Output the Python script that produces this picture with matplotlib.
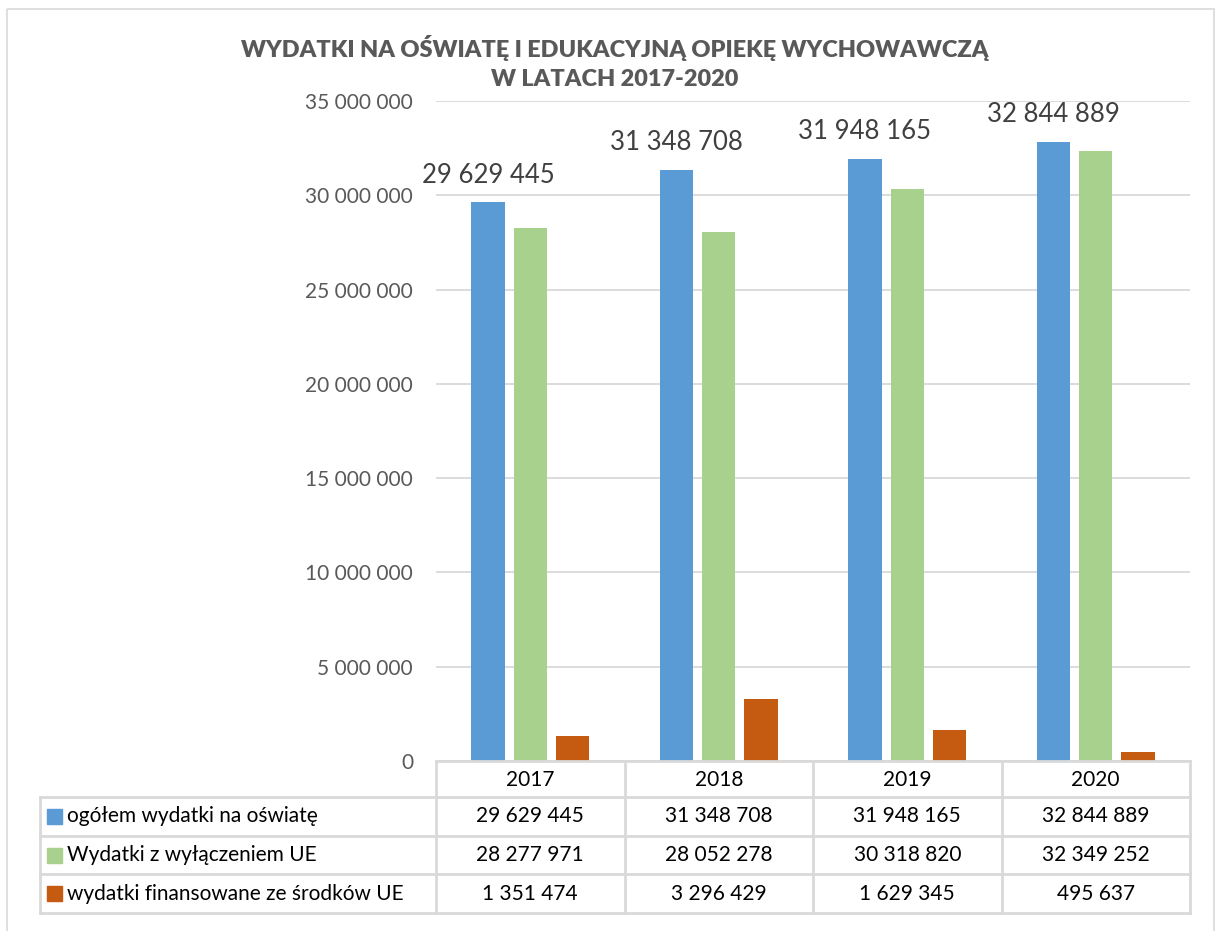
import matplotlib.pyplot as plt
import numpy as np
from matplotlib.patches import Rectangle

plt.rcParams["font.family"] = ["Lato", "DejaVu Sans"]

# data
years = ["2017", "2018", "2019", "2020"]
series_names = [
    "ogółem wydatki na oświatę",
    "Wydatki z wyłączeniem UE",
    "wydatki finansowane ze środków UE",
]
total = [29629445, 31348708, 31948165, 32844889]
without_eu = [28277971, 28052278, 30318820, 32349252]
eu_funded = [1351474, 3296429, 1629345, 495637]
series_values = [total, without_eu, eu_funded]
colors = ["#5B9BD5", "#A9D18E", "#C55A11"]
y_ticks = [0, 5000000, 10000000, 15000000, 20000000, 25000000, 30000000, 35000000]
title_lines = ["WYDATKI NA OŚWIATĘ I EDUKACYJNĄ OPIEKĘ WYCHOWAWCZĄ", "W LATACH 2017-2020"]


def fmt(v):
    return f"{v:,}".replace(",", " ")


W, H = 1224, 931
fig = plt.figure(figsize=(W / 100, H / 100), dpi=100)

# plot area in pixels
px_left, px_right, px_top, px_bottom = 436, 1190, 101, 761
ax = fig.add_axes([px_left / W, 1 - px_bottom / H, (px_right - px_left) / W,
                   (px_bottom - px_top) / H])

x = np.arange(len(years))
bar_w = 0.176
step = 0.224
for i, (vals, c) in enumerate(zip(series_values, colors)):
    ax.bar(x + (i - 1) * step, vals, width=bar_w, color=c, zorder=2)

# labels above the totals
for xi, v in zip(x - step, total):
    ax.annotate(fmt(v), xy=(xi, v), xytext=(0, 10.5), textcoords="offset points",
                ha="center", va="bottom", fontsize=18.5, color="#404040")

ax.set_xlim(-0.5, len(years) - 0.5)
ax.set_ylim(0, 35000000)
ax.set_yticks(y_ticks)
ax.set_yticklabels([fmt(t) for t in y_ticks], fontsize=15, color="#595959")
ax.tick_params(axis="y", length=0, pad=16.5)
ax.set_xticks([])
ax.grid(axis="y", color="#D9D9D9", linewidth=1.3, zorder=0)
for s in ax.spines.values():
    s.set_visible(False)

# overlay in pixel coordinates for the title, frame and data table
ov = fig.add_axes([0, 0, 1, 1], facecolor="none")
ov.set_xlim(0, W)
ov.set_ylim(H, 0)
ov.axis("off")

ov.add_patch(Rectangle((7, 9), 1207, 940, fill=False, edgecolor="#D9D9D9", lw=1.2))

ov.text(615, 48, title_lines[0], ha="center", va="center", fontsize=16.9,
        fontweight="heavy", color="#595959")
ov.text(615, 80, title_lines[1], ha="center", va="center", fontsize=16.9,
        fontweight="heavy", color="#595959")

line_kw = dict(color="#D9D9D9", lw=2)
col_w = (px_right - px_left) / len(years)
col_x = [px_left + k * col_w for k in range(len(years) + 1)]
row_y = [761, 797, 836, 874, 913]
tab_left = 40

# horizontal lines
ov.plot([px_left, px_right], [row_y[0], row_y[0]], **line_kw)
for ry in row_y[1:]:
    ov.plot([tab_left, px_right], [ry, ry], **line_kw)
# vertical lines
ov.plot([tab_left, tab_left], [row_y[1], row_y[-1]], **line_kw)
for cx in col_x:
    ov.plot([cx, cx], [row_y[0], row_y[-1]], **line_kw)

for k, yr in enumerate(years):
    ov.text((col_x[k] + col_x[k + 1]) / 2, (row_y[0] + row_y[1]) / 2 + 1, yr,
            ha="center", va="center", fontsize=15, color="#000000")

for r, (name, vals, c) in enumerate(zip(series_names, series_values, colors)):
    cy = (row_y[r + 1] + row_y[r + 2]) / 2
    ov.add_patch(Rectangle((47, cy - 7.5), 15, 15, color=c))
    ov.text(67, cy, name, ha="left", va="center", fontsize=15, color="#000000")
    for k, v in enumerate(vals):
        ov.text((col_x[k] + col_x[k + 1]) / 2, cy, fmt(v), ha="center",
                va="center", fontsize=15, color="#000000")

fig.savefig("out.png", dpi=100, facecolor="white")
